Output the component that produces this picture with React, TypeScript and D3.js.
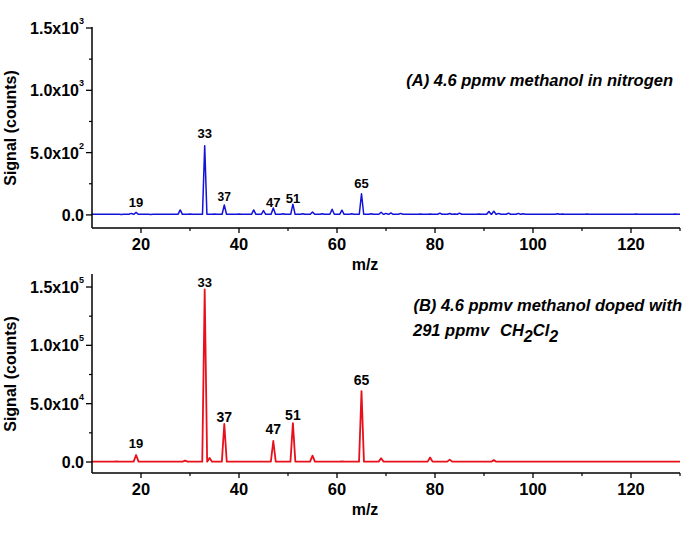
import React from 'react'
import * as d3 from 'd3'

// m/z axis shared by both panels
const xTicks = [20, 40, 60, 80, 100, 120]
const xMinorTicks = [30, 50, 70, 90, 110, 130]

// panel A: 4.6 ppmv methanol in nitrogen  [m/z, counts]
const topPeaks: [number, number][] = [
  [14, 6], [16, 4], [18, 12], [19, 20], [22, 4], [24, 6], [26, 5], [28, 40], [30, 8], [33, 556], [35, 8], [37, 80],
  [40, 8], [43, 40], [45, 35], [47, 56], [49, 10], [51, 86], [53, 10], [55, 24],
  [57, 10], [59, 45], [61, 38], [63, 10], [65, 170], [67, 10], [69, 22], [70, 12],
  [71, 16], [73, 12], [75, 6], [77, 8], [79, 8], [81, 14], [83, 11], [84, 8], [85, 14],
  [87, 6], [89, 8], [91, 28], [92, 30], [93, 12], [95, 14], [97, 12], [98, 10],
  [101, 6], [103, 6], [105, 10], [106, 8], [109, 6], [111, 8], [113, 6], [115, 5], [117, 6],
  [119, 5], [121, 8], [124, 5], [127, 6], [129, 8]
]
const topBaseline = 5
const topYTicks = [0, 500, 1000, 1500]
const topYMinor = [250, 750, 1250]
const topYLabels = [['0.0', ''], ['5.0x10', '2'], ['1.0x10', '3'], ['1.5x10', '3']]
// label anchor: [m/z, counts, text, font size]
const topLabels: [number, number, string, number][] = [
  [19, 64, '19', 13], [33, 617, '33', 13], [37, 113, '37', 12],
  [47, 64, '47', 13], [51, 97, '51', 13], [65, 218, '65', 13]
]

// panel B: methanol doped with CH2Cl2  [m/z, counts]
const bottomPeaks: [number, number][] = [
  [15, 500], [19, 6000], [29, 1200], [33, 148000], [34, 3500], [37, 32600],
  [47, 18000], [51, 33400], [55, 5400], [61, 600], [65, 60800], [69, 3200],
  [79, 3800], [83, 2000], [92, 1600]
]
const bottomBaseline = 300
const bottomYTicks = [0, 50000, 100000, 150000]
const bottomYMinor = [25000, 75000, 125000]
const bottomYLabels = [['0.0', ''], ['5.0x10', '4'], ['1.0x10', '5'], ['1.5x10', '5']]
const bottomLabels: [number, number, string, number][] = [
  [19, 11600, '19', 13], [33, 150400, '33', 13], [37, 34000, '37', 14],
  [47, 24000, '47', 14], [51, 35600, '51', 14], [65, 66000, '65', 14]
]

const FONT = '"Liberation Sans", Arial, sans-serif'

function spectrum(peaks: [number, number][], base: number, halfWidth: number) {
  const pts: [number, number][] = [[10, base]]
  peaks.forEach(([mz, h]) => {
    pts.push([mz - halfWidth, base], [mz, h], [mz + halfWidth, base])
  })
  pts.push([130, base])
  return pts
}

interface PanelProps {
  top: number
  bottom: number
  domain: [number, number]
  peaks: [number, number][]
  base: number
  color: string
  strokeW: number
  yTicks: number[]
  yMinor: number[]
  yLabels: string[][]
  labels: [number, number, string, number][]
  halfWidth: number
}

function Panel({ top, bottom, domain, peaks, base, color, strokeW, yTicks, yMinor, yLabels, labels, halfWidth }: PanelProps) {
  const x = d3.scaleLinear().domain([10, 130]).range([92, 680])
  const y = d3.scaleLinear().domain(domain).range([bottom, top])
  const line = d3.line<[number, number]>()
    .x(d => x(d[0]))
    .y(d => y(d[1]))
  const pts = spectrum(peaks, base, halfWidth)

  return (
    <g>
      <path d={line(pts) || ''} fill="none" stroke={color} strokeWidth={strokeW} strokeLinejoin="round" />
      {/* axes */}
      <line x1={92} x2={92} y1={top - 1} y2={bottom} stroke="#000" strokeWidth={1.5} />
      <line x1={92} x2={680} y1={bottom} y2={bottom} stroke="#000" strokeWidth={1.5} />
      {yTicks.map((t, i) => (
        <g key={t}>
          <line x1={86} x2={92} y1={y(t)} y2={y(t)} stroke="#000" strokeWidth={1.3} />
          <text x={84} y={y(t) + 6} textAnchor="end" fontSize={16} fontWeight="bold" fontFamily={FONT}>
            {yLabels[i][0]}
            {yLabels[i][1] && <tspan fontSize={9} dy={-10}>{yLabels[i][1]}</tspan>}
          </text>
        </g>
      ))}
      {yMinor.map(t => (
        <line key={t} x1={89} x2={92} y1={y(t)} y2={y(t)} stroke="#000" strokeWidth={1.2} />
      ))}
      {xTicks.map(t => (
        <g key={t}>
          <line x1={x(t)} x2={x(t)} y1={bottom} y2={bottom + 5} stroke="#000" strokeWidth={1.3} />
          <text x={x(t)} y={bottom + 22} textAnchor="middle" fontSize={16.5} fontWeight="bold" fontFamily={FONT}>{t}</text>
        </g>
      ))}
      {xMinorTicks.map(t => (
        <line key={t} x1={x(t)} x2={x(t)} y1={bottom} y2={bottom + 3} stroke="#000" strokeWidth={1.2} />
      ))}
      <text x={365} y={bottom + 42} textAnchor="middle" fontSize={16} fontWeight="bold" fontFamily={FONT}>m/z</text>
      <text transform={`translate(16,${(top + bottom) / 2}) rotate(-90)`} textAnchor="middle" fontSize={16} fontWeight="bold" fontFamily={FONT}>
        Signal (counts)
      </text>
      {labels.map(([mz, v, s, fs]) => (
        <text key={s} x={x(mz)} y={y(v)} textAnchor="middle" fontSize={fs} fontWeight="bold" fontFamily={FONT}>{s}</text>
      ))}
    </g>
  )
}

export default function App() {
  return (
    <svg width={685} height={533} style={{ position: 'absolute', left: 0, top: 0, background: '#fff' }}>
      <rect width={685} height={533} fill="#fff" />
      <Panel top={28} bottom={228} domain={[-105, 1500]} peaks={topPeaks} base={topBaseline} color="#1212d8" strokeW={1.5}
        yTicks={topYTicks} yMinor={topYMinor} yLabels={topYLabels} labels={topLabels} halfWidth={0.45} />
      <Panel top={275} bottom={473} domain={[-9430, 160300]} peaks={bottomPeaks} base={bottomBaseline} color="#e8101a" strokeW={1.8}
        yTicks={bottomYTicks} yMinor={bottomYMinor} yLabels={bottomYLabels} labels={bottomLabels} halfWidth={0.5} />
      <text x={673} y={86} textAnchor="end" fontSize={16.5} fontWeight="bold" fontStyle="italic" fontFamily={FONT}>
        (A) 4.6 ppmv methanol in nitrogen
      </text>
      <text x={682} y={311} textAnchor="end" fontSize={16.5} fontWeight="bold" fontStyle="italic" fontFamily={FONT}>
        (B) 4.6 ppmv methanol doped with
      </text>
      <text x={413} y={336} fontSize={16.5} fontWeight="bold" fontStyle="italic" fontFamily={FONT}>
        291 ppmv
        <tspan x={500}>CH</tspan>
        <tspan dy={6} fontSize={16}>2</tspan>
        <tspan dy={-6}>Cl</tspan>
        <tspan dy={6} fontSize={16}>2</tspan>
      </text>
    </svg>
  )
}
